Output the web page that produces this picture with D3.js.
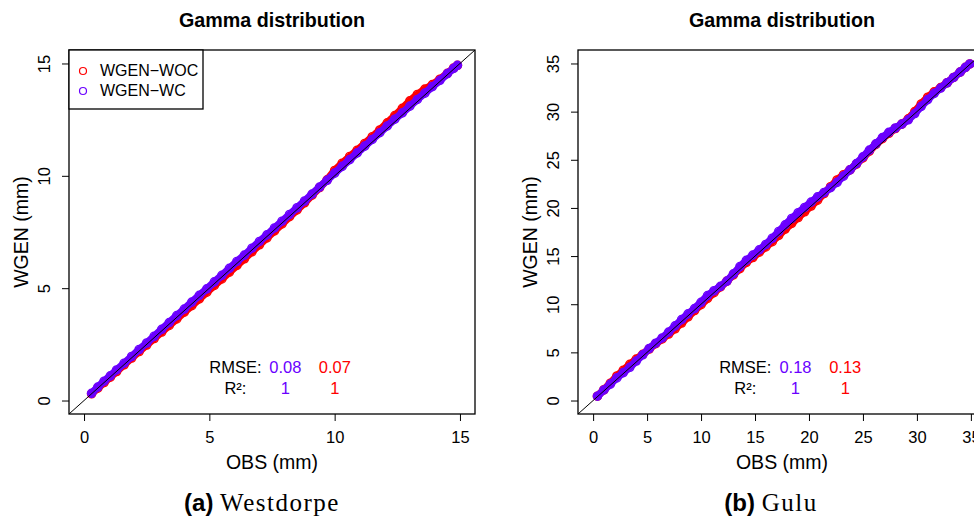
<!DOCTYPE html>
<html>
<head>
<meta charset="utf-8">
<script src="https://cdn.jsdelivr.net/npm/d3@7"></script>
<style>
  body { margin: 0; background: #fff; }
  text { font-family: "Liberation Sans", Arial, sans-serif; fill: #000; }
</style>
</head>
<body>
<svg id="chart" width="974" height="516"></svg>
<script>
// Q-Q values: sorted OBS quantiles vs generated quantiles
const seriesNames = ['WGEN\u2212WOC', 'WGEN\u2212WC'];
const seriesColors = ['#ff0000', '#6a00ff'];

// (a) Westdorpe
const obsA = [0.30, 0.55, 0.80, 1.05, 1.30, 1.60, 1.90, 2.20, 2.50, 2.80, 3.10, 3.40, 3.70, 4.00, 4.30,
  4.60, 4.90, 5.20, 5.50, 5.80, 6.10, 6.40, 6.70, 7.00, 7.30, 7.60, 7.90, 8.20, 8.50, 8.80, 9.10, 9.40,
  9.70, 10.00, 10.30, 10.60, 10.90, 11.20, 11.50, 11.80, 12.10, 12.40, 12.70, 13.00, 13.30, 13.60, 13.90,
  14.20, 14.50, 14.75, 14.90];
const wocA = [0.30, 0.55, 0.80, 1.04, 1.29, 1.59, 1.89, 2.18, 2.47, 2.76, 3.05, 3.34, 3.63, 3.93, 4.22,
  4.52, 4.82, 5.12, 5.41, 5.71, 6.01, 6.31, 6.62, 6.93, 7.24, 7.55, 7.86, 8.18, 8.48, 8.80, 9.14, 9.48,
  9.82, 10.24, 10.56, 10.86, 11.14, 11.44, 11.74, 12.04, 12.36, 12.68, 13.00, 13.34, 13.62, 13.86, 14.06,
  14.30, 14.56, 14.80, 14.92];
const wcA = [0.32, 0.60, 0.86, 1.10, 1.36, 1.66, 1.96, 2.27, 2.56, 2.86, 3.17, 3.47, 3.78, 4.07, 4.38,
  4.68, 4.97, 5.28, 5.57, 5.88, 6.19, 6.47, 6.78, 7.08, 7.37, 7.68, 7.98, 8.28, 8.58, 8.88, 9.19, 9.50,
  9.80, 10.12, 10.42, 10.72, 11.02, 11.32, 11.62, 11.92, 12.22, 12.52, 12.80, 13.10, 13.40, 13.68, 13.97,
  14.25, 14.55, 14.78, 14.92];
const ticksA = [0, 5, 10, 15];
const limitsA = [-0.6, 15.6];
const rmseA = ['0.08', '0.07'];   // WC, WOC
const r2A = ['1', '1'];

// (b) Gulu
const obsB = [0.4, 1.0, 1.6, 2.2, 2.8, 3.4, 4.0, 4.6, 5.2, 5.8, 6.4, 7.0, 7.6, 8.2, 8.8, 9.4, 10.0, 10.6,
  11.2, 11.8, 12.4, 13.0, 13.6, 14.2, 14.8, 15.4, 16.0, 16.6, 17.2, 17.8, 18.4, 19.0, 19.6, 20.2, 20.8,
  21.4, 22.0, 22.6, 23.2, 23.8, 24.4, 25.0, 25.6, 26.2, 26.8, 27.4, 28.0, 28.6, 29.2, 29.8, 30.4, 31.0,
  31.6, 32.2, 32.8, 33.4, 34.0, 34.5, 34.9];
const wocB = [0.45, 1.12, 1.80, 2.55, 3.15, 3.75, 4.30, 4.80, 5.35, 5.90, 6.40, 6.90, 7.45, 8.05, 8.70,
  9.35, 9.95, 10.60, 11.20, 11.80, 12.40, 13.05, 13.70, 14.35, 14.85, 15.40, 15.95, 16.50, 17.15, 17.80,
  18.40, 19.00, 19.60, 20.20, 20.80, 21.50, 22.20, 22.90, 23.45, 23.95, 24.55, 25.20, 25.90, 26.60, 27.20,
  27.75, 28.25, 28.70, 29.25, 30.00, 30.80, 31.50, 32.05, 32.50, 33.00, 33.55, 34.10, 34.60, 34.95];
const wcB = [0.45, 1.10, 1.70, 2.35, 2.90, 3.45, 4.10, 4.75, 5.40, 5.95, 6.50, 7.10, 7.75, 8.40, 9.00,
  9.55, 10.20, 10.90, 11.40, 11.85, 12.40, 13.15, 13.90, 14.55, 15.10, 15.65, 16.20, 16.85, 17.55, 18.25,
  18.90, 19.50, 20.05, 20.60, 21.15, 21.60, 22.10, 22.65, 23.30, 23.95, 24.60, 25.30, 26.00, 26.65, 27.30,
  27.85, 28.30, 28.70, 29.15, 29.80, 30.55, 31.25, 31.90, 32.45, 33.00, 33.55, 34.10, 34.60, 34.95];
const ticksB = [0, 5, 10, 15, 20, 25, 30, 35];
const limitsB = [-1.4, 36.4];
const rmseB = ['0.18', '0.13'];
const r2B = ['1', '1'];

const panels = [
  { left: 69, right: 475, obs: obsA, sim: [wocA, wcA], ticks: ticksA, lim: limitsA,
    rmse: rmseA, r2: r2A, legend: true, caption: ['(a)', 'Westdorpe'], capX: 262 },
  { left: 578, right: 986, obs: obsB, sim: [wocB, wcB], ticks: ticksB, lim: limitsB,
    rmse: rmseB, r2: r2B, legend: false, caption: ['(b)', 'Gulu'], capX: 771 }
];

const plotTop = 50, plotBottom = 414;
const svg = d3.select('#chart');

panels.forEach((p, k) => {
  const x = d3.scaleLinear().domain(p.lim).range([p.left, p.right]);
  const y = d3.scaleLinear().domain(p.lim).range([plotBottom, plotTop]);
  const g = svg.append('g');

  g.append('clipPath').attr('id', 'clip' + k)
    .append('rect').attr('x', p.left).attr('y', plotTop)
    .attr('width', p.right - p.left).attr('height', plotBottom - plotTop);

  const plot = g.append('g').attr('clip-path', 'url(#clip' + k + ')');

  const line = d3.line().x(d => x(d[0])).y(d => y(d[1]));
  p.sim.forEach((s, i) => {
    const pts = p.obs.map((o, j) => [o, s[j]]);
    plot.append('path').datum(pts)
      .attr('d', line)
      .attr('fill', 'none')
      .attr('stroke', seriesColors[i])
      .attr('stroke-width', 7.5)
      .attr('stroke-linecap', 'round')
      .attr('stroke-linejoin', 'round');
    plot.selectAll('.pt' + i).data(pts)
      .enter().append('circle')
      .attr('cx', d => x(d[0]))
      .attr('cy', d => y(d[1]))
      .attr('r', 4.1)
      .attr('fill', 'none')
      .attr('stroke', seriesColors[i])
      .attr('stroke-width', 1.4);
  });

  // 1:1 line
  plot.append('line')
    .attr('x1', x(p.lim[0])).attr('y1', y(p.lim[0]))
    .attr('x2', x(p.lim[1])).attr('y2', y(p.lim[1]))
    .attr('stroke', '#000').attr('stroke-width', 1);

  // axes
  const ax = g.append('g').attr('transform', 'translate(0,' + plotBottom + ')')
    .call(d3.axisBottom(x).tickValues(p.ticks).tickSize(7).tickFormat(d3.format('d')));
  ax.select('.domain').remove();
  ax.selectAll('text').attr('y', 29).attr('dy', null)
    .style('font-size', '16.5px');

  const ay = g.append('g').attr('transform', 'translate(' + p.left + ',0)')
    .call(d3.axisLeft(y).tickValues(p.ticks).tickSize(7).tickFormat(d3.format('d')));
  ay.select('.domain').remove();
  ay.selectAll('text').attr('x', null).attr('dy', null)
    .attr('text-anchor', 'middle')
    .attr('transform', 'translate(-19,0) rotate(-90)')
    .style('font-size', '16.5px');

  g.append('rect')
    .attr('x', p.left).attr('y', plotTop)
    .attr('width', p.right - p.left).attr('height', plotBottom - plotTop)
    .attr('fill', 'none').attr('stroke', '#000').attr('stroke-width', 1.3);

  const cx = (p.left + p.right) / 2;
  g.append('text').attr('x', cx).attr('y', 27).attr('text-anchor', 'middle')
    .style('font-size', '19.7px').style('font-weight', 'bold').text('Gamma distribution');
  g.append('text').attr('x', cx).attr('y', 469).attr('text-anchor', 'middle')
    .style('font-size', '19.5px').text('OBS (mm)');
  g.append('text').attr('transform', 'translate(' + (p.left - 41) + ',' + (plotTop + plotBottom) / 2 + ') rotate(-90)')
    .attr('text-anchor', 'middle').style('font-size', '19.5px').text('WGEN (mm)');

  // fit statistics
  const w = p.right - p.left;
  const lab = p.left + w * 0.41, c1 = p.left + w * 0.533, c2 = p.left + w * 0.655;
  [['RMSE:', p.rmse, 373], ['R\u00b2:', p.r2, 394]].forEach(r => {
    g.append('text').attr('x', lab).attr('y', r[2]).attr('text-anchor', 'middle')
      .style('font-size', '16.5px').text(r[0]);
    g.append('text').attr('x', c1).attr('y', r[2]).attr('text-anchor', 'middle')
      .style('font-size', '16.5px').style('fill', seriesColors[1]).text(r[1][0]);
    g.append('text').attr('x', c2).attr('y', r[2]).attr('text-anchor', 'middle')
      .style('font-size', '16.5px').style('fill', seriesColors[0]).text(r[1][1]);
  });

  if (p.legend) {
    const lg = g.append('g');
    lg.append('rect').attr('x', p.left).attr('y', plotTop).attr('width', 134).attr('height', 59)
      .attr('fill', '#fff').attr('stroke', '#000').attr('stroke-width', 1.3);
    seriesNames.forEach((n, i) => {
      lg.append('circle').attr('cx', p.left + 14).attr('cy', plotTop + 21 + i * 20).attr('r', 3.5)
        .attr('fill', 'none').attr('stroke', seriesColors[i]).attr('stroke-width', 1.2);
      lg.append('text').attr('x', p.left + 31).attr('y', plotTop + 26 + i * 20)
        .style('font-size', '16px').text(n);
    });
  }

  // caption
  const cap = g.append('text').attr('x', p.capX).attr('y', 511).attr('text-anchor', 'middle');
  cap.append('tspan').style('font-size', '24px').style('font-weight', 'bold').text(p.caption[0] + ' ');
  cap.append('tspan').style('font-family', '"Liberation Serif", "DejaVu Serif", serif')
    .style('font-size', '25px').style('letter-spacing', '1.5px').text(p.caption[1]);
});
</script>
</body>
</html>
